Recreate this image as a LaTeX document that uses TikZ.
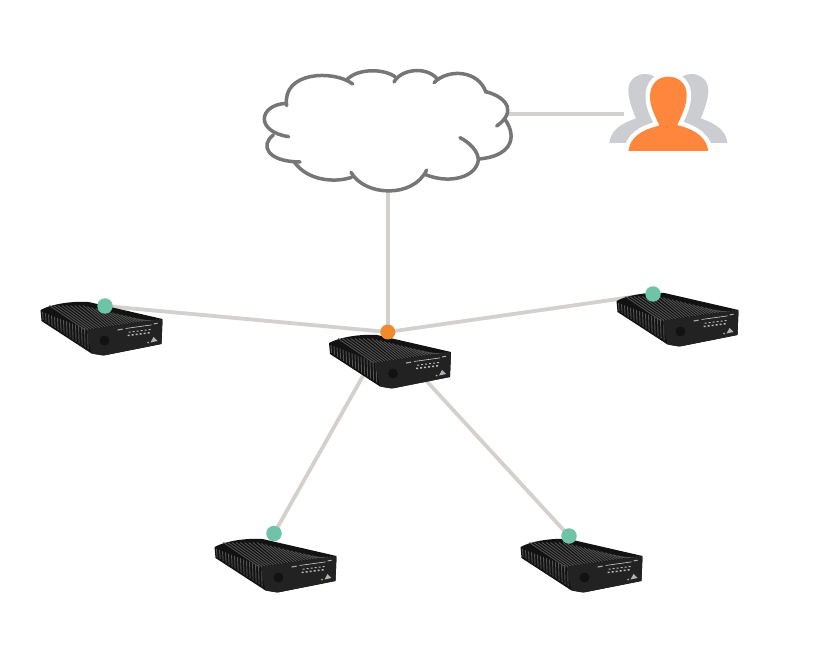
\documentclass[tikz,border=0pt]{standalone}
\usetikzlibrary{backgrounds,calc}
\definecolor{linkc}{HTML}{D3D0CD}
\definecolor{cloudc}{HTML}{767676}
\definecolor{orangea}{HTML}{F08A2C}
\definecolor{orangeb}{HTML}{FF873D}
\definecolor{greenc}{HTML}{6FC3A6}
\definecolor{greyp}{HTML}{CCCDD1}
\definecolor{bodyc}{HTML}{121212}
\definecolor{panelc}{HTML}{232222}
\definecolor{finc}{HTML}{525252}
\tikzset{
  link/.style={draw=linkc,line width=3.8pt},
  cloudarc/.style={draw=cloudc,line width=3.5pt,line cap=round},
  dotgreen/.style={circle,fill=greenc,inner sep=0pt,minimum size=15.5pt},
  dotorange/.style={circle,fill=orangea,inner sep=0pt,minimum size=15pt},
  anchorpt/.style={inner sep=0pt,minimum size=0pt},
  router/.pic={
    \fill[bodyc] (-61,-19) .. controls (-50,-25) and (-30,-28) .. (-13,-27) -- (61,-10) -- (60,15) -- (2,26.5) -- (-10,24.5) -- (-60,-8) -- cycle;
    \foreach \t in {0,1,...,26}{
      \pgfmathsetmacro\ax{-52+\t*4.2}
      \pgfmathsetmacro\ay{-23.5+max(0,\t-8)*1.02}
      \pgfmathsetmacro\bx{-16+\t*2.85}
      \pgfmathsetmacro\by{1-\t*0.42}
      \draw[finc,line width=.9pt] (\ax,\ay) -- (\bx,\by);
    }
    \foreach \t in {0,1,...,15}{
      \pgfmathsetmacro\cx{-59+\t*3.0}
      \pgfmathsetmacro\cy{-17+\t*1.15}
      \pgfmathsetmacro\dy{-9+\t*1.95}
      \draw[finc,line width=.9pt] (\cx,\cy) -- (\cx+.6,\dy);
    }
    \fill[panelc,rounded corners=1.5pt] (-15,1) -- (61,-10) -- (60,15) -- (2,26.5) -- (-10,24.5) -- cycle;
    \fill[bodyc] (3,11.5) circle (5pt);
    \fill[gray!55] (27,2.5) rectangle +(2,1) (31,2) rectangle +(2,1) (35,1.5) rectangle +(2,1) (39,1) rectangle +(2,1) (43,.5) rectangle +(2,1) (47,0) rectangle +(2,1);
    \fill[gray!55] (26,5.5) rectangle +(2,1.6) (30,5) rectangle +(2,1.6) (34,4.5) rectangle +(2,1.6) (38,4) rectangle +(2,1.6) (42,3.5) rectangle +(2,1.6) (46,3) rectangle +(2,1.6);
    \fill[gray!70] (16,.4) -- (21,-.4) -- (21,.8) -- (16,1.6) -- cycle;
    \fill[gray!35] (24,-.8) -- (50,-4.4) -- (50,-3.8) -- (24,-.2) -- cycle;
    \fill[gray!60] (52,-5.6) -- (56,-6.2) -- (56,-5.2) -- (52,-4.6) -- cycle;
    \fill[gray!60] (49,13.5) -- (52,8) -- (56,12) -- cycle;
    \fill[yellow!70!black] (46.5,13.5) circle (1pt);
  }
}
\begin{document}
\begin{tikzpicture}[x=1pt,y=-1pt]
\useasboundingbox (0,0) rectangle (828,658);

% routers
\pic at (390,362) {router};
\pic at (101.5,329) {router};
\pic at (677.5,320) {router};
\pic at (275.5,566) {router};
\pic at (581.5,566) {router};

% named ends and dots
\node[anchorpt] (cloudE) at (508,114) {};
\node[anchorpt] (cloudS) at (387.8,192) {};
\node[anchorpt] (people) at (624,114) {};
\node[dotorange] (hub) at (387.8,332) {};
\node[dotgreen] (gw) at (105,306) {};
\node[dotgreen] (ge) at (653,294) {};
\node[dotgreen] (gsw) at (274,533.5) {};
\node[dotgreen] (gse) at (569,536) {};
\coordinate (hubSE) at (381.5,332);

\begin{scope}[on background layer]
  \fill[white] (0,0) rectangle (828,658);
  \draw[link] (cloudE.center) -- (people.center);
  \draw[link] (cloudS.center) -- (hub.center);
  \draw[link] (gw.center) -- (hub.center);
  \draw[link] (ge.center) -- (hub.center);
  \draw[link] (gsw.center) -- (hub.center);
  \draw[link] (gse.center) -- (hubSE);
\end{scope}

% cloud
\begin{scope}[shift={(250,60)},x=.33333pt,y=-.33333pt]
  \fill[white] (108,135) .. controls (120,50) and (250,20) .. (308,72) .. controls (340,20) and (410,25) .. (435,50) .. controls (470,20) and (530,25) .. (556,60) .. controls (610,25) and (690,30) .. (708,97) .. controls (760,110) and (790,150) .. (765,178) .. controls (795,220) and (780,285) .. (685,297) .. controls (680,350) and (580,375) .. (525,342) .. controls (490,410) and (340,410) .. (303,345) .. controls (250,375) and (170,360) .. (132,305) .. controls (70,310) and (30,265) .. (70,225) .. controls (20,200) and (30,130) .. (110,130) -- cycle;
  \draw[cloudarc] (308,72) .. controls (250,28) and (95,35) .. (110,137);
  \draw[cloudarc] (108,130) .. controls (25,135) and (15,215) .. (116,230);
  \draw[cloudarc] (70,225) .. controls (30,255) and (50,305) .. (150,306);
  \draw[cloudarc] (133,306) .. controls (170,360) and (250,370) .. (305,352);
  \draw[cloudarc] (303,337) .. controls (345,410) and (490,415) .. (530,330);
  \draw[cloudarc] (525,343) .. controls (600,375) and (680,350) .. (685,300) .. controls (685,275) and (660,248) .. (630,233);
  \draw[cloudarc] (685,297) .. controls (780,290) and (805,235) .. (765,178);
  \draw[cloudarc] (740,198) .. controls (795,160) and (780,115) .. (708,95);
  \draw[cloudarc] (708,97) .. controls (685,30) and (595,25) .. (552,68);
  \draw[cloudarc] (560,55) .. controls (530,20) and (455,25) .. (432,66);
  \draw[cloudarc] (435,50) .. controls (400,25) and (320,25) .. (290,60);
\end{scope}

% people
\begin{scope}[shift={(600,65)},x=.33333pt,y=-.33333pt]
  \fill[greyp] (28,234) .. controls (32,197) and (60,177) .. (108,160) .. controls (95,130) and (85,100) .. (85,75) .. controls (85,45) and (110,27) .. (135,27) .. controls (165,27) and (190,50) .. (190,90) -- (190,234) -- cycle;
  \fill[greyp] (382,234) .. controls (378,197) and (350,177) .. (302,160) .. controls (315,130) and (325,100) .. (325,75) .. controls (325,45) and (300,27) .. (275,27) .. controls (245,27) and (220,50) .. (220,90) -- (220,234) -- cycle;
  \path[draw=white,line width=9pt,line join=round] (85,258) .. controls (90,220) and (120,195) .. (178,182) .. controls (170,160) and (150,130) .. (150,95) .. controls (150,55) and (175,35) .. (205,35) .. controls (235,35) and (262,55) .. (260,95) .. controls (258,130) and (240,160) .. (232,180) .. controls (290,195) and (320,220) .. (325,258) -- cycle;
  \fill[orangeb] (85,258) .. controls (90,220) and (120,195) .. (178,182) .. controls (170,160) and (150,130) .. (150,95) .. controls (150,55) and (175,35) .. (205,35) .. controls (235,35) and (262,55) .. (260,95) .. controls (258,130) and (240,160) .. (232,180) .. controls (290,195) and (320,220) .. (325,258) -- cycle;
\end{scope}
\end{tikzpicture}
\end{document}
